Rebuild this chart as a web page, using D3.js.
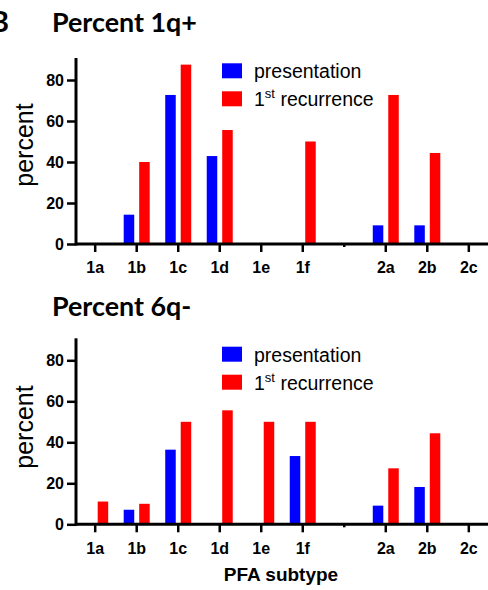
<!DOCTYPE html>
<html>
<head>
<meta charset="utf-8">
<script src="https://cdn.jsdelivr.net/npm/d3@7"></script>
<style>
  html, body { margin: 0; padding: 0; background: #fff; }
  svg { display: block; }
</style>
</head>
<body>
<svg id="chart" width="488" height="590"></svg>
<script>
// ---------- data ----------
const categories = ["1a", "1b", "1c", "1d", "1e", "1f", "gap", "2a", "2b", "2c"];
const subtypes = ["1a", "1b", "1c", "1d", "1e", "1f", "2a", "2b", "2c"];
const seriesNames = ["presentation", "1st recurrence"];
const seriesColors = ["#0000ff", "#ff0000"];
const yTicks = [0, 20, 40, 60, 80];

const q1Presentation = [0, 14.3, 72.7, 42.9, 0, 0, 9.1, 9.1, 0];
const q1Recurrence   = [0, 40.0, 87.5, 55.6, 0, 50.0, 72.7, 44.4, 0];
const q6Presentation = [0, 7.1, 36.4, 0, 0, 33.3, 9.1, 18.2, 0];
const q6Recurrence   = [11.1, 10.0, 50.0, 55.6, 50.0, 50.0, 27.3, 44.4, 0];

const panelLetter = "B";
const titles = ["Percent 1q+", "Percent 6q-"];
const yLabel = "percent";
const xLabel = "PFA subtype";

// ---------- drawing ----------
const svg = d3.select("#chart");
const armFont = "'Liberation Sans', Arial, sans-serif";
const titleFont = "Lato, 'Open Sans', sans-serif";

// panel letter
svg.append("text").attr("x", 9).attr("y", 32)
  .attr("text-anchor", "end")
  .attr("font-family", titleFont).attr("font-weight", 700)
  .attr("font-size", 28).text(panelLetter);

// determine title font size by fitting width
const probe = svg.append("text").attr("font-family", titleFont)
  .attr("font-weight", 700).attr("font-size", 24).text(titles[0]);
const titleSize = 24 * 145 / probe.node().getComputedTextLength();
probe.remove();

const x = d3.scalePoint().domain(categories).range([94.7, 468.3]);
const xSub = d3.scaleBand().domain(seriesNames).range([-12.5, 13.5]).paddingInner(0.32);

function drawPanel(cfg) {
  const g = svg.append("g");
  const y = d3.scaleLinear().domain([0, 90]).range([cfg.y0, cfg.y0 - 90 * 2.05]);

  // title
  g.append("text").attr("x", 52).attr("y", cfg.titleY)
    .attr("font-family", titleFont).attr("font-weight", 700)
    .attr("font-size", titleSize).attr("fill", "#000").text(cfg.title);

  // bars
  const rows = [];
  subtypes.forEach((s, i) => {
    rows.push({ cat: s, series: seriesNames[0], v: cfg.pres[i], color: seriesColors[0] });
    rows.push({ cat: s, series: seriesNames[1], v: cfg.rec[i], color: seriesColors[1] });
  });
  g.selectAll("rect.bar").data(rows.filter(d => d.v > 0)).join("rect")
    .attr("class", "bar")
    .attr("x", d => x(d.cat) + xSub(d.series))
    .attr("width", xSub.bandwidth())
    .attr("y", d => y(d.v))
    .attr("height", d => y(0) - y(d.v))
    .attr("fill", d => d.color);

  // y axis
  const yAxis = g.append("g").attr("transform", `translate(76,0)`)
    .call(d3.axisLeft(y).tickValues(yTicks).tickSize(9).tickPadding(3).tickSizeOuter(0));
  yAxis.select(".domain").remove();
  yAxis.selectAll(".tick line").attr("stroke", "#000").attr("stroke-width", 2.5);
  yAxis.selectAll(".tick text").attr("font-family", armFont).attr("font-weight", 700)
    .attr("font-size", 16).attr("fill", "#000").attr("dy", "0.34em");
  g.append("line").attr("x1", 76).attr("x2", 76)
    .attr("y1", y(90) - 1.5).attr("y2", cfg.y0 + 1.5)
    .attr("stroke", "#000").attr("stroke-width", 3);

  // x axis
  const xAxis = g.append("g").attr("transform", `translate(0,${cfg.y0})`)
    .call(d3.axisBottom(x).tickSize(8).tickPadding(10).tickSizeOuter(0)
      .tickFormat(d => d === "gap" ? "" : d));
  xAxis.select(".domain").remove();
  xAxis.selectAll(".tick line").attr("stroke", "#000").attr("stroke-width", 2.5)
    .attr("y2", d => d === "gap" ? 3 : 8);
  xAxis.selectAll(".tick text").attr("font-family", armFont).attr("font-weight", 700)
    .attr("font-size", 16).attr("fill", "#000");
  g.append("line").attr("x1", 76).attr("x2", 488)
    .attr("y1", cfg.y0).attr("y2", cfg.y0)
    .attr("stroke", "#000").attr("stroke-width", 3);

  // y label
  g.append("text")
    .attr("transform", `translate(33,${cfg.labelY}) rotate(-90)`)
    .attr("text-anchor", "middle")
    .attr("font-family", armFont).attr("font-size", 25).attr("fill", "#000")
    .text(yLabel);

  // legend
  const leg = g.append("g");
  seriesNames.forEach((name, i) => {
    const base = cfg.legendY + i * 28;
    leg.append("rect").attr("x", 222).attr("y", base - 15).attr("width", 20).attr("height", 15)
      .attr("fill", seriesColors[i]);
    const t = leg.append("text").attr("x", 254).attr("y", base)
      .attr("font-family", armFont).attr("font-size", 19.5).attr("fill", "#000");
    if (i === 0) {
      t.text(name);
    } else {
      t.append("tspan").text("1");
      t.append("tspan").attr("font-size", 13).attr("dy", -8).text("st");
      t.append("tspan").attr("dy", 8).text(" recurrence");
    }
  });
}

drawPanel({ y0: 244, title: titles[0], titleY: 31.7, pres: q1Presentation, rec: q1Recurrence, labelY: 145, legendY: 78.3 });
drawPanel({ y0: 524.3, title: titles[1], titleY: 316, pres: q6Presentation, rec: q6Recurrence, labelY: 427, legendY: 361.7 });

// x axis title
svg.append("text").attr("x", 281).attr("y", 581)
  .attr("text-anchor", "middle")
  .attr("font-family", armFont).attr("font-weight", 700)
  .attr("font-size", 19).attr("fill", "#000").text(xLabel);
</script>
</body>
</html>
